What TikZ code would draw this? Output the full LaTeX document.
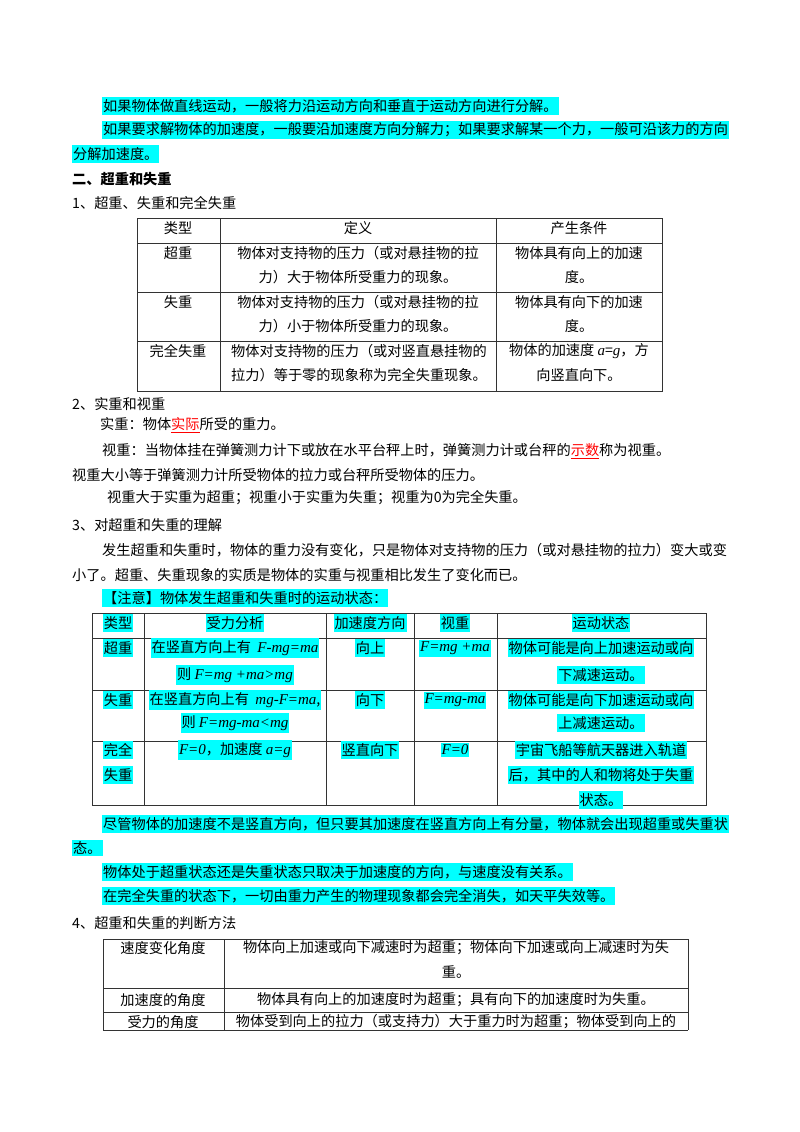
\documentclass[tikz,border=0pt]{standalone}
\usepackage{fontspec}
\setmainfont{Noto Sans CJK SC}
\newfontfamily\lat{Liberation Serif}
\definecolor{hcy}{RGB}{0,255,255}
\newcommand{\mi}[1]{{\lat\itshape\fontsize{15}{15}\selectfont #1}}
\newcommand{\rd}[1]{\textcolor{red}{\underline{#1}}}
\begin{document}
\begin{tikzpicture}[x=1pt,y=-1pt,
  t/.style={anchor=west,inner sep=0pt,font=\fontsize{14.2}{15}\selectfont},
  h/.style={t,fill=hcy,inner xsep=1pt,inner ysep=2pt},
  c/.style={anchor=center,inner sep=0pt,font=\fontsize{14.2}{15}\selectfont},
  hc/.style={c,fill=hcy,inner xsep=1pt,inner ysep=2pt},
  g/.style={line width=0.8pt,draw=black!80}]
\useasboundingbox[fill=white] (0,0) rectangle (800,1132);
% intro
\node[h] (l1) at (102,106) {如果物体做直线运动，一般将力沿运动方向和垂直于运动方向进行分解。};
\node[h] (l2) at (102,130) {如果要求解物体的加速度，一般要沿加速度方向分解力；如果要求解某一个力，一般可沿该力的方向};
\node[h] (l3) at (72,154) {分解加速度。};
\node[t,font=\fontsize{14.2}{15}\selectfont\bfseries] (l4) at (72,179) {二、超重和失重};
\node[t] (l5) at (72,203) {1、超重、失重和完全失重};
% table 1
\draw[g] (137,218) rectangle (662,391);
\foreach \yy in {243,292,341} \draw[g] (137,\yy) -- (662,\yy);
\foreach \xx in {220,496} \draw[g] (\xx,218) -- (\xx,391);
\node[c] (a1) at (178,228) {类型};
\node[c] (a2) at (358,228) {定义};
\node[c] (a3) at (579,228) {产生条件};
\node[c] (b1) at (178,253) {超重};
\node[c] (b2) at (358,253) {物体对支持物的压力（或对悬挂物的拉};
\node[c] (b3) at (358,277) {力）大于物体所受重力的现象。};
\node[c] (b4) at (579,253) {物体具有向上的加速};
\node[c] (b5) at (579,277) {度。};
\node[c] (c1) at (178,302) {失重};
\node[c] (c2) at (358,302) {物体对支持物的压力（或对悬挂物的拉};
\node[c] (c3) at (358,326) {力）小于物体所受重力的现象。};
\node[c] (c4) at (579,302) {物体具有向下的加速};
\node[c] (c5) at (579,326) {度。};
\node[c] (d1) at (178,351) {完全失重};
\node[t] (d2) at (231,351) {物体对支持物的压力（或对竖直悬挂物的};
\node[t] (d3) at (231,375) {拉力）等于零的现象称为完全失重现象。};
\node[c] (d4) at (579,351) {物体的加速度 \mi{a}=\mi{g}，方};
\node[c] (d5) at (579,375) {向竖直向下。};
% section 2
\node[t] (s1) at (72,404) {2、实重和视重};
\node[t] (s2) at (100,425) {实重：物体\rd{实际}所受的重力。};
\node[t] (s3) at (102,451) {视重：当物体挂在弹簧测力计下或放在水平台秤上时，弹簧测力计或台秤的\rd{示数}称为视重。};
\node[t] (s4) at (72,475) {视重大小等于弹簧测力计所受物体的拉力或台秤所受物体的压力。};
\node[t] (s5) at (107,498) {视重大于实重为超重；视重小于实重为失重；视重为0为完全失重。};
\node[t] (s6) at (72,525) {3、对超重和失重的理解};
\node[t] (s7) at (102,550) {发生超重和失重时，物体的重力没有变化，只是物体对支持物的压力（或对悬挂物的拉力）变大或变};
\node[t] (s8) at (72,575) {小了。超重、失重现象的实质是物体的实重与视重相比发生了变化而已。};
\node[h] (s9) at (102,598) {【注意】物体发生超重和失重时的运动状态：};
% table 2
\draw[g] (92,613) rectangle (706,805);
\foreach \yy in {638,690,741} \draw[g] (92,\yy) -- (706,\yy);
\foreach \xx in {144,326,414,497} \draw[g] (\xx,613) -- (\xx,805);
\node[hc] (e1) at (118,623) {类型};
\node[hc] (e2) at (235,623) {受力分析};
\node[hc] (e3) at (370,623) {加速度方向};
\node[hc] (e4) at (455,623) {视重};
\node[hc] (e5) at (601,623) {运动状态};
\node[hc] (f1) at (118,648) {超重};
\node[hc] (f2) at (235,648) {在竖直方向上有 \ \mi{F-mg=ma}};
\node[hc] (f3) at (235,675) {则 \mi{F=mg +ma>mg}};
\node[hc] (f4) at (370,648) {向上};
\node[hc] (f5) at (455,648) {\mi{F=mg +ma}};
\node[hc] (f6) at (601,648) {物体可能是向上加速运动或向};
\node[hc] (f7) at (601,675) {下减速运动。};
\node[hc] (g1) at (118,700) {失重};
\node[hc] (g2) at (235,700) {在竖直方向上有 \ \mi{mg-F=ma},};
\node[hc] (g3) at (235,723) {则 \mi{F=mg-ma<mg}};
\node[hc] (g4) at (370,700) {向下};
\node[hc] (g5) at (455,700) {\mi{F=mg-ma}};
\node[hc] (g6) at (601,700) {物体可能是向下加速运动或向};
\node[hc] (g7) at (601,723) {上减速运动。};
\node[hc] (k1) at (118,750) {完全};
\node[hc] (k2) at (118,775) {失重};
\node[hc] (k3) at (235,750) {\mi{F=0}，加速度 \mi{a=g}};
\node[hc] (k4) at (370,750) {竖直向下};
\node[hc] (k5) at (455,750) {\mi{F=0}};
\node[hc] (k6) at (601,750) {宇宙飞船等航天器进入轨道};
\node[hc] (k7) at (601,775) {后，其中的人和物将处于失重};
\node[hc] (k8) at (601,800) {状态。};
% notes
\node[h] (m1) at (102,824) {尽管物体的加速度不是竖直方向，但只要其加速度在竖直方向上有分量，物体就会出现超重或失重状};
\node[h] (m2) at (72,848) {态。};
\node[h] (m3) at (102,872) {物体处于超重状态还是失重状态只取决于加速度的方向，与速度没有关系。};
\node[h] (m4) at (102,896) {在完全失重的状态下，一切由重力产生的物理现象都会完全消失，如天平失效等。};
\node[t] (m5) at (72,923) {4、超重和失重的判断方法};
% table 3
\draw[g] (103,939) -- (688,939) (103,988) -- (688,988) (103,1012) -- (688,1012) (103,1030) -- (688,1030);
\draw[g] (103,939) -- (103,1030) (224,939) -- (224,1030) (688,939) -- (688,1030);
\node[c] (p1) at (163,948) {速度变化角度};
\node[c] (p2) at (456,948) {物体向上加速或向下减速时为超重；物体向下加速或向上减速时为失};
\node[c] (p3) at (456,972) {重。};
\node[c] (q1) at (163,1000) {加速度的角度};
\node[c] (q2) at (456,1000) {物体具有向上的加速度时为超重；具有向下的加速度时为失重。};
\node[c] (r1) at (163,1022) {受力的角度};
\node[c] (r2) at (456,1022) {物体受到向上的拉力（或支持力）大于重力时为超重；物体受到向上的};
\end{tikzpicture}
\end{document}
